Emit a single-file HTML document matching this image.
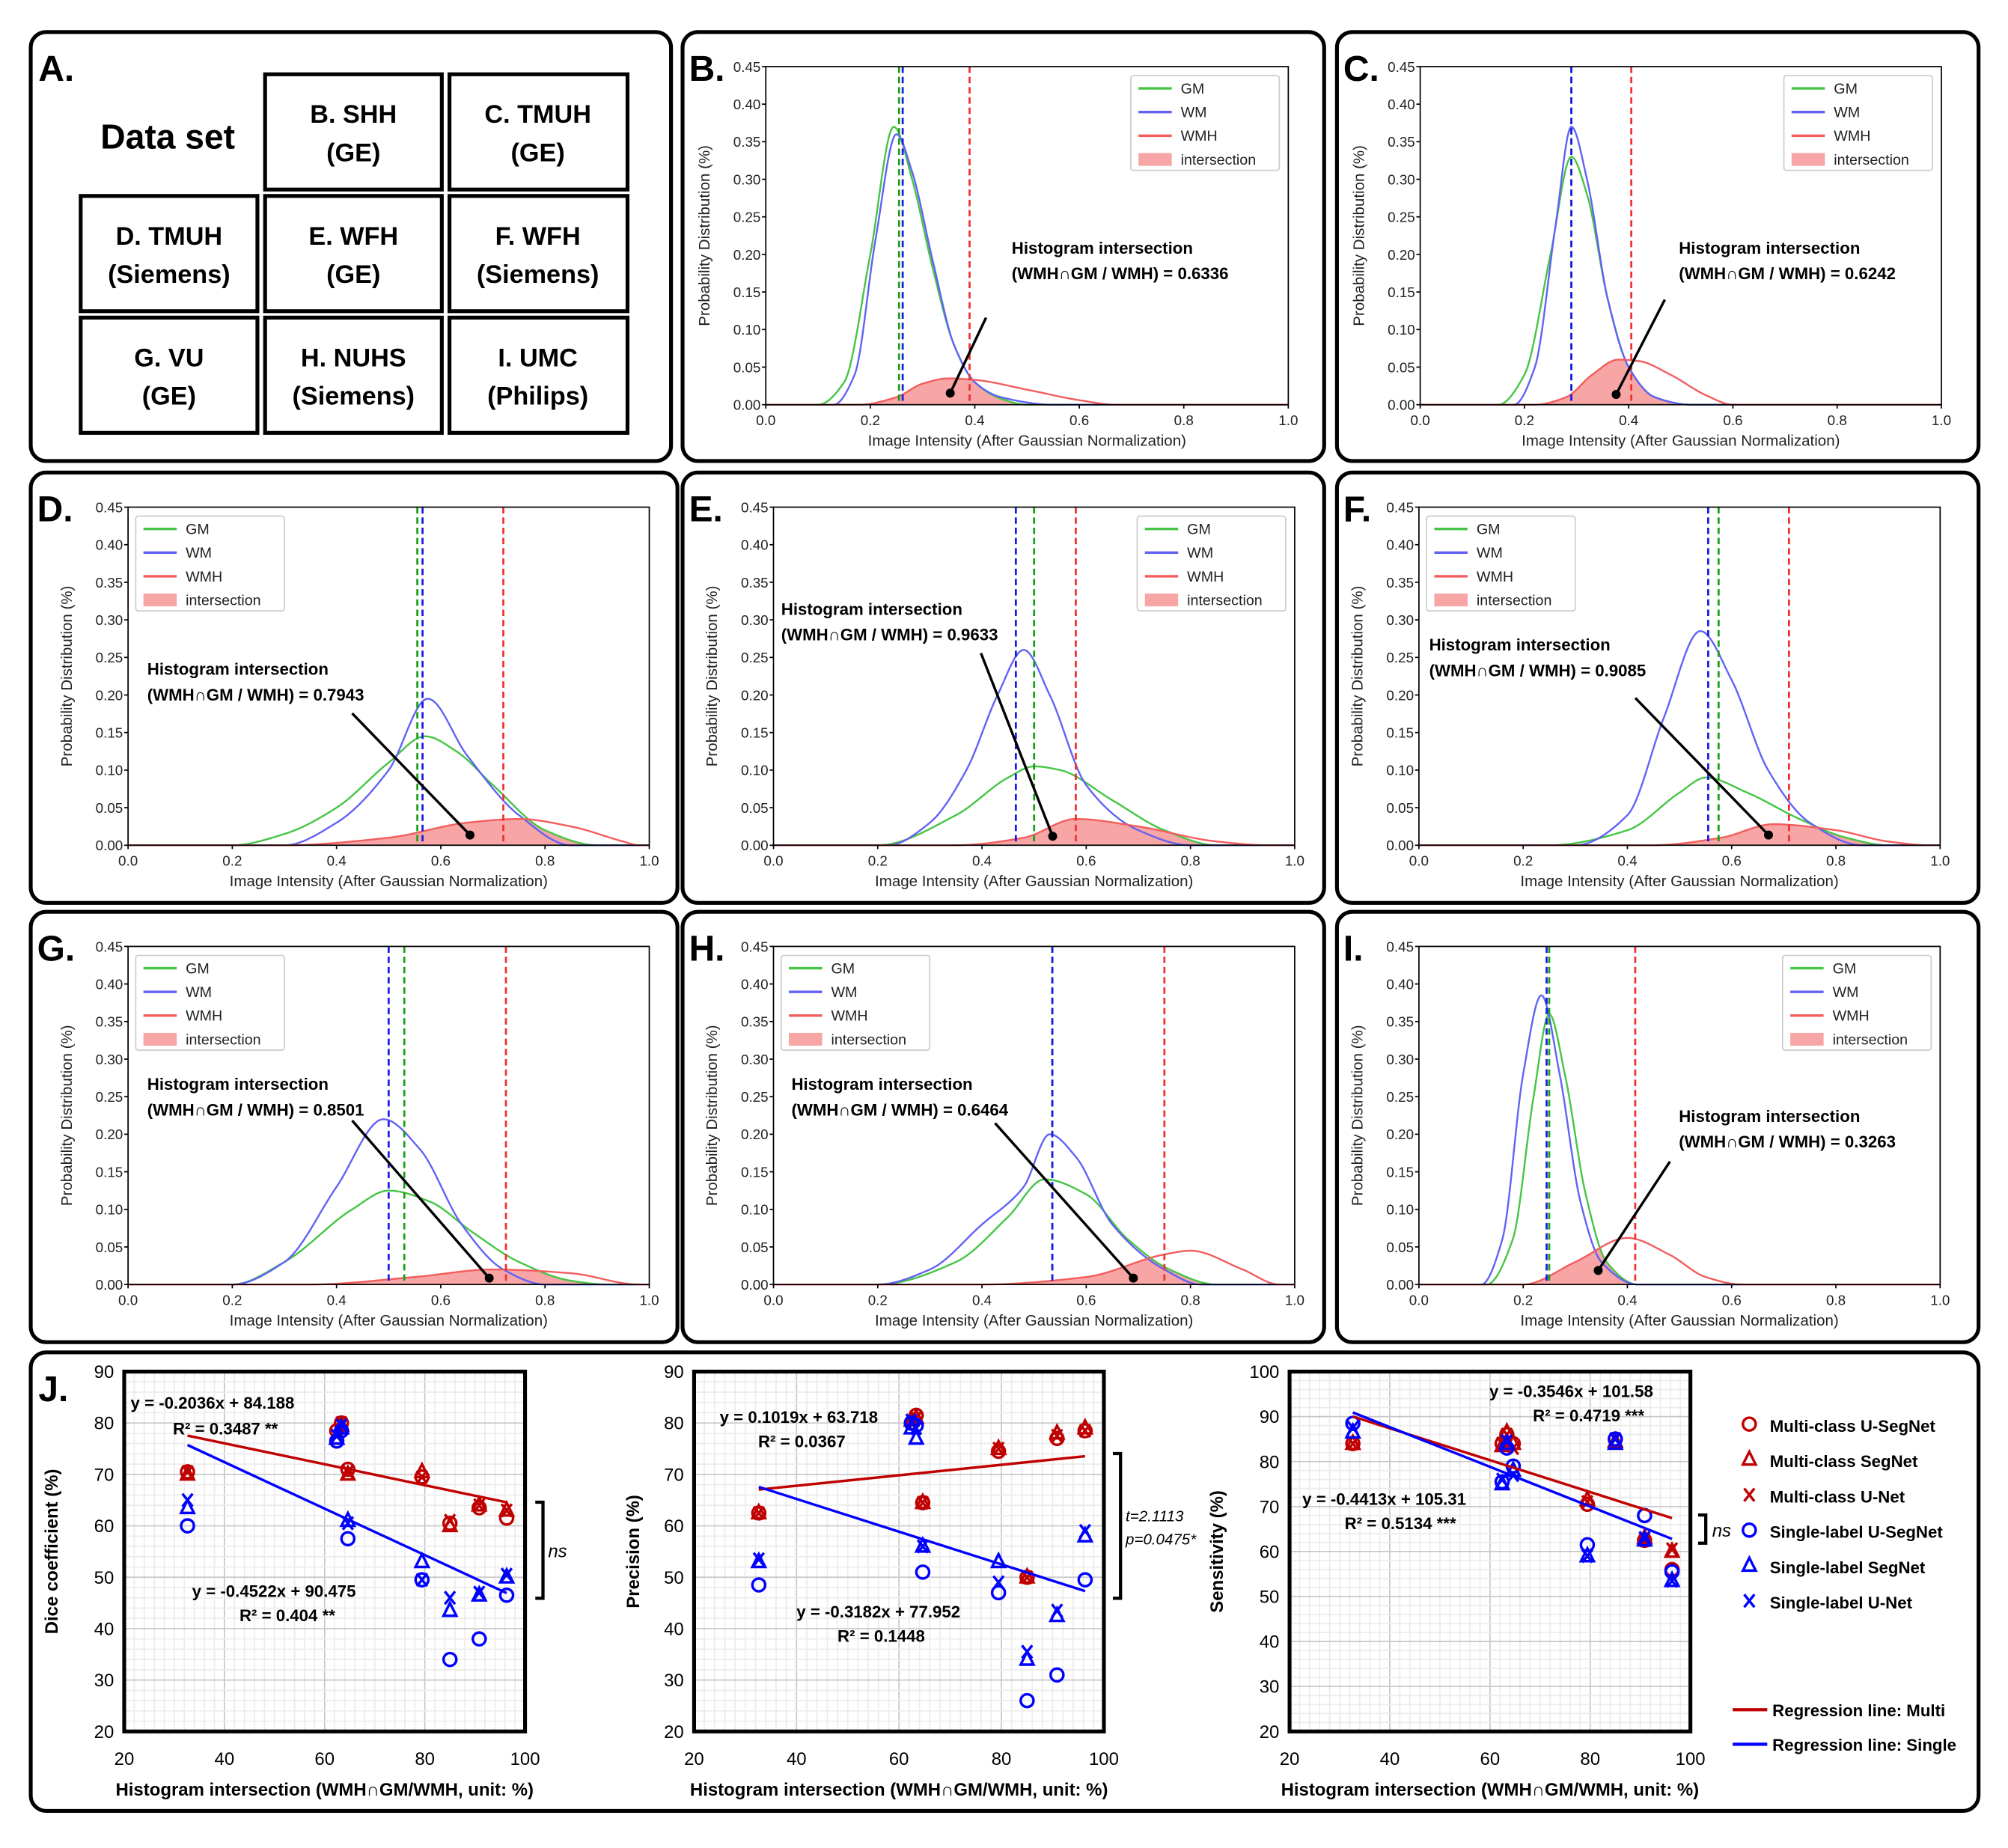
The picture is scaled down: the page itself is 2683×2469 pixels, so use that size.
<!DOCTYPE html>
<html><head><meta charset="utf-8"><style>
html,body{margin:0;padding:0;background:#fff;}
svg{display:block;font-family:"Liberation Sans",sans-serif;}
.bx{fill:none;stroke:#000;stroke-width:3;}
.ab{fill:#fff;stroke:#000;stroke-width:3;}
.at{font-weight:bold;font-size:20px;text-anchor:middle;}
</style></head><body>
<svg id="fig" width="2683" height="2469" viewBox="0 0 1568 1443" preserveAspectRatio="none">
<rect x="0" y="0" width="1568" height="1443" fill="#fff"/>
<rect class="bx" x="24" y="25" width="500" height="335" rx="12"/>
<rect class="bx" x="533" y="25" width="501" height="335" rx="12"/>
<rect class="bx" x="1044" y="25" width="501" height="335" rx="12"/>
<rect class="bx" x="24" y="369" width="505" height="336" rx="12"/>
<rect class="bx" x="533" y="369" width="501" height="336" rx="12"/>
<rect class="bx" x="1044" y="369" width="501" height="336" rx="12"/>
<rect class="bx" x="24" y="712" width="505" height="336" rx="12"/>
<rect class="bx" x="533" y="712" width="501" height="336" rx="12"/>
<rect class="bx" x="1044" y="712" width="501" height="336" rx="12"/>
<rect class="bx" x="24" y="1056" width="1521" height="358" rx="12"/>
<text x="30" y="63" font-size="28" font-weight="bold">A.</text>
<text x="131" y="116" font-size="27" font-weight="bold" text-anchor="middle">Data set</text>
<g><rect class="ab" x="207" y="58" width="138" height="90"/><text class="at" x="276" y="96">B. SHH</text><text class="at" x="276" y="126">(GE)</text></g>
<g><rect class="ab" x="351" y="58" width="139" height="90"/><text class="at" x="420" y="96">C. TMUH</text><text class="at" x="420" y="126">(GE)</text></g>
<g><rect class="ab" x="63" y="153" width="138" height="90"/><text class="at" x="132" y="191">D. TMUH</text><text class="at" x="132" y="221">(Siemens)</text></g>
<g><rect class="ab" x="207" y="153" width="138" height="90"/><text class="at" x="276" y="191">E. WFH</text><text class="at" x="276" y="221">(GE)</text></g>
<g><rect class="ab" x="351" y="153" width="139" height="90"/><text class="at" x="420" y="191">F. WFH</text><text class="at" x="420" y="221">(Siemens)</text></g>
<g><rect class="ab" x="63" y="248" width="138" height="90"/><text class="at" x="132" y="286">G. VU</text><text class="at" x="132" y="316">(GE)</text></g>
<g><rect class="ab" x="207" y="248" width="138" height="90"/><text class="at" x="276" y="286">H. NUHS</text><text class="at" x="276" y="316">(Siemens)</text></g>
<g><rect class="ab" x="351" y="248" width="139" height="90"/><text class="at" x="420" y="286">I. UMC</text><text class="at" x="420" y="316">(Philips)</text></g>
<text x="30" y="1094" font-size="28" font-weight="bold">J.</text>
</svg>
<script>
// ---------- Histogram data (x = intensity, y = probability) ----------
const histYTicks = [0,0.05,0.10,0.15,0.20,0.25,0.30,0.35,0.40,0.45];
const histXTicks = [0,0.2,0.4,0.6,0.8,1.0];
const B_gm = [[0,0],[0.1,0],[0.15,0.03],[0.2,0.2],[0.245,0.37],[0.28,0.3],[0.32,0.18],[0.36,0.08],[0.4,0.03],[0.45,0.008],[0.5,0],[1,0]];
const B_wm = [[0,0],[0.13,0],[0.17,0.04],[0.21,0.22],[0.25,0.36],[0.28,0.31],[0.32,0.19],[0.36,0.08],[0.4,0.03],[0.45,0.01],[0.55,0],[1,0]];
const B_wmh = [[0,0],[0.18,0],[0.25,0.01],[0.3,0.028],[0.35,0.035],[0.4,0.033],[0.5,0.02],[0.6,0.006],[0.67,0],[1,0]];
const B_vl = [0.255,0.262,0.39];
const C_gm = [[0,0],[0.15,0],[0.2,0.04],[0.25,0.2],[0.29,0.33],[0.32,0.28],[0.36,0.14],[0.4,0.05],[0.45,0.01],[0.52,0],[1,0]];
const C_wm = [[0,0],[0.18,0],[0.22,0.05],[0.26,0.24],[0.29,0.37],[0.32,0.3],[0.36,0.14],[0.4,0.05],[0.45,0.01],[0.52,0],[1,0]];
const C_wmh = [[0,0],[0.22,0],[0.28,0.01],[0.33,0.04],[0.38,0.06],[0.42,0.058],[0.48,0.04],[0.55,0.012],[0.6,0],[1,0]];
const C_vl = [0.29,0.29,0.405];
const D_gm = [[0,0],[0.2,0],[0.3,0.015],[0.4,0.05],[0.5,0.11],[0.57,0.145],[0.63,0.125],[0.7,0.08],[0.8,0.02],[0.9,0],[1,0]];
const D_wm = [[0,0],[0.3,0],[0.4,0.03],[0.5,0.1],[0.575,0.195],[0.65,0.12],[0.75,0.04],[0.85,0],[1,0]];
const D_wmh = [[0,0],[0.3,0],[0.5,0.01],[0.65,0.03],[0.75,0.035],[0.85,0.025],[0.95,0.005],[0.98,0],[1,0]];
const D_vl = [0.555,0.565,0.72];
const E_gm = [[0,0],[0.2,0],[0.35,0.04],[0.45,0.09],[0.5,0.105],[0.55,0.1],[0.65,0.06],[0.75,0.02],[0.85,0],[1,0]];
const E_wm = [[0,0],[0.22,0],[0.3,0.03],[0.37,0.1],[0.43,0.2],[0.48,0.26],[0.53,0.2],[0.6,0.08],[0.7,0.02],[0.8,0],[1,0]];
const E_wmh = [[0,0],[0.35,0],[0.48,0.01],[0.58,0.035],[0.7,0.025],[0.85,0.005],[0.95,0],[1,0]];
const E_vl = [0.5,0.465,0.58];
const F_gm = [[0,0],[0.25,0],[0.4,0.02],[0.5,0.07],[0.55,0.09],[0.63,0.07],[0.73,0.035],[0.82,0.01],[0.9,0],[1,0]];
const F_wm = [[0,0],[0.3,0],[0.4,0.04],[0.47,0.17],[0.54,0.285],[0.6,0.22],[0.67,0.1],[0.75,0.03],[0.85,0],[1,0]];
const F_wmh = [[0,0],[0.45,0],[0.58,0.01],[0.68,0.028],[0.8,0.02],[0.9,0.005],[0.98,0],[1,0]];
const F_vl = [0.575,0.555,0.71];
const G_gm = [[0,0],[0.2,0],[0.3,0.03],[0.43,0.1],[0.5,0.125],[0.58,0.11],[0.66,0.07],[0.75,0.03],[0.85,0.005],[0.92,0],[1,0]];
const G_wm = [[0,0],[0.2,0],[0.3,0.03],[0.4,0.13],[0.49,0.22],[0.56,0.18],[0.64,0.08],[0.72,0.02],[0.8,0],[1,0]];
const G_wmh = [[0,0],[0.35,0],[0.55,0.01],[0.7,0.02],[0.85,0.015],[0.98,0],[1,0]];
const G_vl = [0.53,0.5,0.725];
const H_gm = [[0,0],[0.2,0],[0.35,0.03],[0.45,0.09],[0.52,0.14],[0.6,0.12],[0.68,0.06],[0.76,0.02],[0.85,0],[1,0]];
const H_wm = [[0,0],[0.2,0],[0.3,0.02],[0.4,0.08],[0.48,0.13],[0.53,0.2],[0.58,0.17],[0.65,0.08],[0.75,0.02],[0.82,0],[1,0]];
const H_wmh = [[0,0],[0.4,0],[0.6,0.01],[0.75,0.04],[0.8,0.045],[0.9,0.02],[0.97,0],[1,0]];
const H_vl = [0.535,0.535,0.75];
const I_gm = [[0,0],[0.13,0],[0.18,0.06],[0.22,0.25],[0.25,0.36],[0.28,0.28],[0.32,0.12],[0.36,0.03],[0.42,0],[1,0]];
const I_wm = [[0,0],[0.12,0],[0.16,0.06],[0.2,0.28],[0.235,0.385],[0.27,0.28],[0.31,0.11],[0.35,0.03],[0.42,0],[1,0]];
const I_wmh = [[0,0],[0.2,0],[0.3,0.03],[0.4,0.062],[0.48,0.04],[0.55,0.01],[0.62,0],[1,0]];
const I_vl = [0.25,0.245,0.415];
const HI_texts = ['0.6336','0.6242','0.7943','0.9633','0.9085','0.8501','0.6464','0.3263'];

// ---------- Scatter data (panel J) ----------
const hiX = [32.63,62.42,63.36,64.64,79.43,85.01,90.85,96.33];
const xTicksJ = [20,40,60,80,100];
const dice_mUSeg = [70.5,78.5,80,71,69.5,60.5,63.5,61.5];
const dice_mSeg = [70,77,79.5,70,70.5,60,64,63];
const dice_mUNet = [70.5,77.5,80,70.5,69.5,61,64,63];
const dice_sUSeg = [60,76.5,78.5,57.5,49.5,34,38,46.5];
const dice_sSeg = [63.5,77,79,61,53,43.5,46.5,50];
const dice_sUNet = [65,77.5,79.5,60.5,49.5,46,47,50.5];
const prec_mUSeg = [62.5,80,81.5,64.5,74.5,50,77,78.5];
const prec_mSeg = [62.5,80.5,81,64.5,75,50,78,79];
const prec_mUNet = [62.5,80,81,64.5,75,50,77.5,78.5];
const prec_sUSeg = [48.5,80,79.5,51,47,26,31,49.5];
const prec_sSeg = [53,79,77,56,53,34,42.5,58];
const prec_sUNet = [53.5,80.5,79,56,49,35.5,43.5,59];
const sens_mUSeg = [84,84,86,84,70.5,85,62.5,56];
const sens_mSeg = [84,83.5,86.5,84,71.5,84.5,63,60];
const sens_mUNet = [84,84,86,83,71,85,62.5,60.5];
const sens_sUSeg = [88.5,75.5,83,79,61.5,85,68,55.5];
const sens_sSeg = [86.5,75,84,78,59,84,62.5,53.5];
const sens_sUNet = [87.5,76,84.5,77,59,85,63,53.5];
const dice_fit = [[-0.2036,84.188],[-0.4522,90.475]];
const prec_fit = [[0.1019,63.718],[-0.3182,77.952]];
const sens_fit = [[-0.3546,101.58],[-0.4413,105.31]];

const NS='http://www.w3.org/2000/svg';
const svg=document.getElementById('fig');
function mk(tag, attrs, parent, txt){
  const e=document.createElementNS(NS,tag);
  for(const k in attrs) e.setAttribute(k,attrs[k]);
  if(txt!==undefined) e.textContent=txt;
  (parent||svg).appendChild(e);
  return e;
}
function pchip(pts){
  const n=pts.length, xs=pts.map(p=>p[0]), ys=pts.map(p=>p[1]);
  const d=[], m=new Array(n).fill(0);
  for(let i=0;i<n-1;i++) d.push((ys[i+1]-ys[i])/(xs[i+1]-xs[i]));
  for(let i=1;i<n-1;i++){ if(d[i-1]*d[i]>0){ const w1=2*(xs[i+1]-xs[i])+(xs[i]-xs[i-1]), w2=(xs[i+1]-xs[i])+2*(xs[i]-xs[i-1]); m[i]=(w1+w2)/(w1/d[i-1]+w2/d[i]); } }
  return function(x){
    let i=0; while(i<n-2 && x>xs[i+1]) i++;
    const h=xs[i+1]-xs[i], t=(x-xs[i])/h;
    const h00=2*t*t*t-3*t*t+1,h10=t*t*t-2*t*t+t,h01=-2*t*t*t+3*t*t,h11=t*t*t-t*t;
    return Math.max(0,h00*ys[i]+h10*h*m[i]+h01*ys[i+1]+h11*h*m[i+1]);
  };
}
const panels=[
 {id:'b',L:'B.',px:533,py:25,l:598,r:1006,gm:B_gm,wm:B_wm,wmh:B_wmh,vl:B_vl,leg:'R',tx:790,ty:198,a:[770,248,742,307]},
 {id:'c',L:'C.',px:1044,py:25,l:1109,r:1516,gm:C_gm,wm:C_wm,wmh:C_wmh,vl:C_vl,leg:'R',tx:1311,ty:198,a:[1300,234,1262,308]},
 {id:'d',L:'D.',px:24,py:369,l:100,r:507,gm:D_gm,wm:D_wm,wmh:D_wmh,vl:D_vl,leg:'L',tx:115,ty:527,a:[275,557,367,652]},
 {id:'e',L:'E.',px:533,py:369,l:604,r:1011,gm:E_gm,wm:E_wm,wmh:E_wmh,vl:E_vl,leg:'R',tx:610,ty:480,a:[766,510,822,653]},
 {id:'f',L:'F.',px:1044,py:369,l:1108,r:1515,gm:F_gm,wm:F_wm,wmh:F_wmh,vl:F_vl,leg:'L',tx:1116,ty:508,a:[1277,545,1381,652]},
 {id:'g',L:'G.',px:24,py:712,l:100,r:507,gm:G_gm,wm:G_wm,wmh:G_wmh,vl:G_vl,leg:'L',tx:115,ty:851,a:[275,875,382,998]},
 {id:'h',L:'H.',px:533,py:712,l:604,r:1011,gm:H_gm,wm:H_wm,wmh:H_wmh,vl:H_vl,leg:'L',tx:618,ty:851,a:[777,877,885,998]},
 {id:'i',L:'I.',px:1044,py:712,l:1108,r:1515,gm:I_gm,wm:I_wm,wmh:I_wmh,vl:I_vl,leg:'R',tx:1311,ty:876,a:[1304,907,1248,992]}
];
panels.forEach((p,pi)=>{
  const t=p.py+27, b=p.py+291;
  const X=v=>p.l+(p.r-p.l)*v, Y=v=>b-(b-t)*v/0.45;
  const g=mk('g',{});
  
  
  const fg=pchip(p.gm), fw=pchip(p.wm), fh=pchip(p.wmh);
  let d='M'+X(0)+','+Y(0);
  for(let v=0;v<=1.0001;v+=0.0025) d+=' L'+X(v).toFixed(2)+','+Y(Math.min(fg(v),fh(v))).toFixed(2);
  d+=' L'+X(1)+','+Y(0)+' Z';
  const fill=mk('path',{d:d,fill:'#f7a5a5',stroke:'none'},g);
  
  
  const curves=[[fg,'#45c545','gm-curve'],[fw,'#6262f5','wm-curve'],[fh,'#f25d5d','wmh-curve']];
  curves.forEach(c=>{
    let s='';
    for(let v=0;v<=1.0001;v+=0.0025) s+=(s?' L':'M')+X(v).toFixed(2)+','+Y(c[0](v)).toFixed(2);
    const pe=mk('path',{d:s,fill:'none',stroke:c[1],'stroke-width':1.4},g);
    
    
  });
  const vc=['#18a018','#1a1ae8','#f03030'], vn=['gm-mean-line','wm-mean-line','wmh-mean-line'];
  [0,1,2].forEach(k=>{
    const ln=mk('line',{x1:X(p.vl[k]),x2:X(p.vl[k]),y1:t,y2:b,stroke:vc[k],'stroke-width':1.6,'stroke-dasharray':'5 3'},g);
    
    
  });
  const fr=mk('rect',{x:p.l,y:t,width:p.r-p.l,height:b-t,fill:'none',stroke:'#000','stroke-width':1},g);
  
  
  histYTicks.forEach(v=>{
    mk('line',{x1:p.l-3,x2:p.l,y1:Y(v),y2:Y(v),stroke:'#000'},g);
    const tl=mk('text',{x:p.l-4,y:Y(v)+4,'font-size':11,'text-anchor':'end',fill:'#222'},g,v.toFixed(2));
    
    
  });
  histXTicks.forEach(v=>{
    mk('line',{x1:X(v),x2:X(v),y1:b,y2:b+3,stroke:'#000'},g);
    const tl=mk('text',{x:X(v),y:b+16,'font-size':11,'text-anchor':'middle',fill:'#222'},g,v.toFixed(1));
    
    
  });
  const xt=mk('text',{x:(p.l+p.r)/2,y:b+32,'font-size':12,'text-anchor':'middle',fill:'#222'},g,'Image Intensity (After Gaussian Normalization)');
  
  
  const yx=p.l-44, yc=(t+b)/2;
  const yt=mk('text',{x:yx,y:yc,'font-size':12,'text-anchor':'middle',fill:'#222',transform:'rotate(-90 '+yx+' '+yc+')'},g,'Probability Distribution (%)');
  
  
  const pl=mk('text',{x:p.px+5,y:p.py+38,'font-size':28,'font-weight':'bold'},g,p.L);
  
  
  const lx = p.leg==='R' ? p.r-123 : p.l+6, ly=t+7;
  const lg=mk('g',{},g);
  
  
  mk('rect',{x:lx,y:ly,width:116,height:74,fill:'#fff',stroke:'#ccc','stroke-width':1,rx:2},lg);
  const li=[['GM','#45c545'],['WM','#6262f5'],['WMH','#f25d5d'],['intersection','#f7a5a5']];
  li.forEach((e,k)=>{
    const yy=ly+10+k*18.5;
    if(k<3) mk('line',{x1:lx+6,x2:lx+32,y1:yy,y2:yy,stroke:e[1],'stroke-width':2},lg);
    else mk('rect',{x:lx+6,y:yy-5,width:26,height:10,fill:e[1]},lg);
    const te=mk('text',{x:lx+39,y:yy+4,'font-size':11.5,fill:'#222'},lg,e[0]);
    
    
  });
  const an=mk('text',{x:p.tx,y:p.ty,'font-size':13,'font-weight':'bold'},g,'Histogram intersection');
  
  
  const an2=mk('text',{x:p.tx,y:p.ty+20,'font-size':13,'font-weight':'bold'},g,'(WMH\u2229GM / WMH) = '+HI_texts[pi]);
  
  
  const ar=mk('line',{x1:p.a[0],y1:p.a[1],x2:p.a[2],y2:p.a[3],stroke:'#000','stroke-width':2},g);
  
  
  mk('circle',{cx:p.a[2],cy:p.a[3],r:3.5,fill:'#000'},g);
});

const RED='#c00000', BLUE='#0000ff';
const scat=[
 {id:'dice',l:97,r:410,ymin:20,ymax:90,yt:'Dice coefficient (%)',ytx:45,series:[dice_mUSeg,dice_mSeg,dice_mUNet,dice_sUSeg,dice_sSeg,dice_sUNet],fit:dice_fit,
  eq:[[102,1100,'y = -0.2036x + 84.188'],[135,1120,'R\u00b2 = 0.3487 **'],[150,1247,'y = -0.4522x + 90.475'],[187,1266,'R\u00b2 = 0.404 **']]},
 {id:'precision',l:542,r:862,ymin:20,ymax:90,yt:'Precision (%)',ytx:499,series:[prec_mUSeg,prec_mSeg,prec_mUNet,prec_sUSeg,prec_sSeg,prec_sUNet],fit:prec_fit,
  eq:[[562,1111,'y = 0.1019x + 63.718'],[592,1130,'R\u00b2 = 0.0367'],[622,1263,'y = -0.3182x + 77.952'],[654,1282,'R\u00b2 = 0.1448']]},
 {id:'sensitivity',l:1007,r:1320,ymin:20,ymax:100,yt:'Sensitivity (%)',ytx:955,series:[sens_mUSeg,sens_mSeg,sens_mUNet,sens_sUSeg,sens_sSeg,sens_sUNet],fit:sens_fit,
  eq:[[1163,1091,'y = -0.3546x + 101.58'],[1197,1110,'R\u00b2 = 0.4719 ***'],[1017,1175,'y = -0.4413x + 105.31'],[1050,1194,'R\u00b2 = 0.5134  ***']]}
];
function marker(g,kind,cx,cy,col){
  if(kind===0) return mk('circle',{cx:cx,cy:cy,r:5,fill:'none',stroke:col,'stroke-width':2},g);
  if(kind===1) return mk('path',{d:`M${cx},${cy-6} L${cx+5},${cy+4} L${cx-5},${cy+4} Z`,fill:'none',stroke:col,'stroke-width':2},g);
  return mk('path',{d:`M${cx-4},${cy-5} L${cx+4},${cy+5} M${cx+4},${cy-5} L${cx-4},${cy+5}`,fill:'none',stroke:col,'stroke-width':2},g);
}
scat.forEach(s=>{
  const t=1071, b=1352;
  const X=v=>s.l+(s.r-s.l)*(v-20)/80, Y=v=>b-(b-t)*(v-s.ymin)/(s.ymax-s.ymin);
  const g=mk('g',{});
  
  
  for(let v=20;v<=100;v+=2){ mk('line',{x1:X(v),x2:X(v),y1:t,y2:b,stroke:v%20===0?'#c8c8c8':'#ececec','stroke-width':1},g); }
  for(let v=s.ymin;v<=s.ymax;v+=2){ mk('line',{x1:s.l,x2:s.r,y1:Y(v),y2:Y(v),stroke:v%10===0?'#c8c8c8':'#ececec','stroke-width':1},g); }
  mk('rect',{x:s.l,y:t,width:s.r-s.l,height:b-t,fill:'none',stroke:'#000','stroke-width':3},g);
  for(let v=s.ymin;v<=s.ymax;v+=10){
    const tl=mk('text',{x:s.l-8,y:Y(v)+5,'font-size':14,'text-anchor':'end'},g,String(v));
    
    
  }
  xTicksJ.forEach(v=>{
    const tl=mk('text',{x:X(v),y:1378,'font-size':14,'text-anchor':'middle'},g,String(v));
    
    
  });
  const xt=mk('text',{x:(s.l+s.r)/2,y:1402,'font-size':14,'font-weight':'bold','text-anchor':'middle'},g,'Histogram intersection (WMH\u2229GM/WMH, unit: %)');
  
  
  const yc=(t+b)/2;
  const yt=mk('text',{x:s.ytx,y:yc,'font-size':14,'font-weight':'bold','text-anchor':'middle',transform:`rotate(-90 ${s.ytx} ${yc})`},g,s.yt);
  
  
  s.series.forEach((arr,k)=>{
    const col=k<3?RED:BLUE;
    arr.forEach((v,i)=>{
      const m=marker(g,k%3,X(hiX[i]),Y(v),col);
      
      
    });
  });
  const x0=Math.min(...hiX), x1=Math.max(...hiX);
  s.fit.forEach((f,k)=>{
    const ln=mk('line',{x1:X(x0),y1:Y(f[0]*x0+f[1]),x2:X(x1),y2:Y(f[0]*x1+f[1]),stroke:k===0?RED:BLUE,'stroke-width':2},g);
    
    
  });
  s.eq.forEach(e=>{
    const te=mk('text',{x:e[0],y:e[1],'font-size':13,'font-weight':'bold'},g,e[2]);
    
    
  });
});
const br=[[418,1173,1248,'ns',428,1216],[869,1135,1248,'',0,0],[1326,1183,1205,'ns',1337,1200]];
br.forEach(q=>{
  const p=mk('path',{d:`M${q[0]},${q[1]} L${q[0]+6},${q[1]} L${q[0]+6},${q[2]} L${q[0]},${q[2]}`,fill:'none',stroke:'#000','stroke-width':2.5});
  
  
  if(q[3]){
    const te=mk('text',{x:q[4],y:q[5],'font-size':14,'font-style':'italic'},svg,q[3]);
    
    
  }
});
const tt=mk('text',{x:879,y:1188,'font-size':12,'font-style':'italic'},svg,'t=2.1113');


const pp=mk('text',{x:879,y:1206,'font-size':12,'font-style':'italic'},svg,'p=0.0475*');


const legNames=['Multi-class U-SegNet','Multi-class SegNet','Multi-class U-Net','Single-label U-SegNet','Single-label SegNet','Single-label U-Net'];
legNames.forEach((n,k)=>{
  const y=1113+k*27.6;
  marker(svg,k%3,1366,y-1,k<3?RED:BLUE);
  const te=mk('text',{x:1382,y:y+5,'font-size':13,'font-weight':'bold'},svg,n);
  
  
});
[['Regression line: Multi',RED,1335],['Regression line: Single',BLUE,1362]].forEach(e=>{
  mk('line',{x1:1353,x2:1380,y1:e[2],y2:e[2],stroke:e[1],'stroke-width':2.5});
  const te=mk('text',{x:1384,y:e[2]+5,'font-size':13,'font-weight':'bold'},svg,e[0]);
  
  
});
</script>
</body></html>
